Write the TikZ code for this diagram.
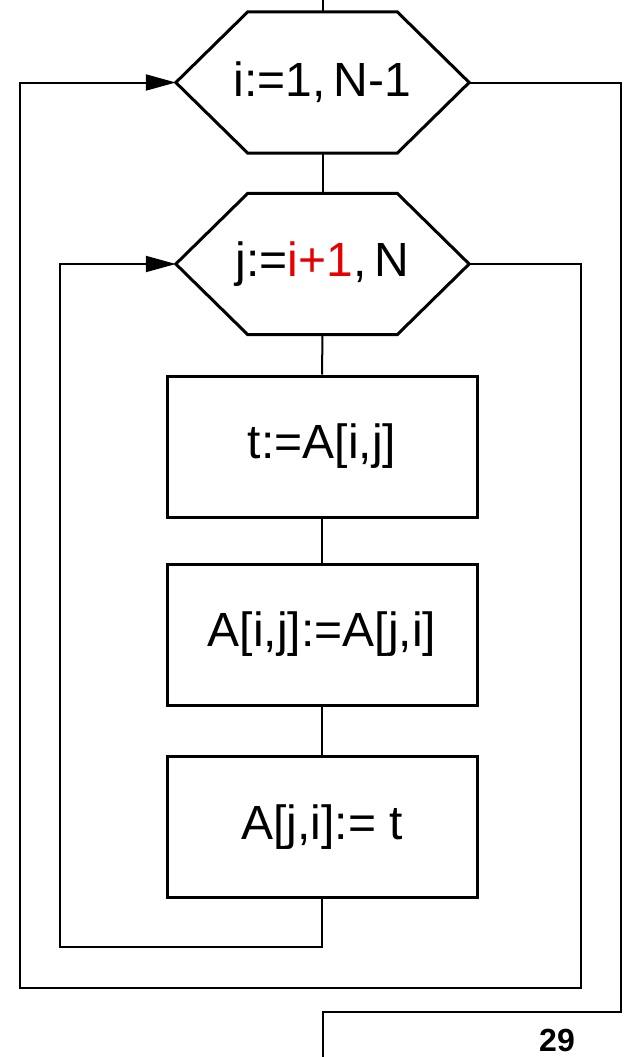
\documentclass[tikz,border=0pt]{standalone}
\usepackage{fontspec}
\setmainfont{Liberation Sans}
\usetikzlibrary{calc,arrows.meta}
\definecolor{txtred}{RGB}{230,0,0}
\begin{document}
\begin{tikzpicture}[x=1pt,y=-1pt,
  conn/.style={line width=2pt,line join=miter},
  arr/.style={conn,-{Triangle[length=30pt,width=16pt]}},
  shapeline/.style={line width=3pt,line join=miter},
  lbl/.style={font=\fontsize{48}{56}\selectfont},
  hexlbl/.style={lbl,minimum width=293pt,minimum height=141pt,inner sep=0pt},
  stepbox/.style={lbl,draw,shapeline,minimum width=310pt,minimum height=141pt,inner sep=0pt}]
\useasboundingbox (0,0) rectangle (625,1057);

% hexagon labels (invisible rectangles used as frames)
\node[hexlbl] (h1) at (322.5,82.5) {i:=1,\,N-1};
\node[hexlbl] (h2) at (322.5,264) {j:=\textcolor{txtred}{i+1},\,N};

\foreach \h in {h1,h2}{
  \draw[shapeline] (\h.west) -- ($(\h.north west)+(72,0)$) -- ($(\h.north east)+(-72,0)$)
     -- (\h.east) -- ($(\h.south east)+(-72,0)$) -- ($(\h.south west)+(72,0)$) -- cycle;
}

\node[stepbox] (b1) at (322,446.5) {t:=A[i,j]};
\node[stepbox] (b2) at (322,634.5) {A[i,j]:=A[j,i]};
\node[stepbox] (b3) at (322,827) {A[j,i]:= t};

\node[font=\bfseries\fontsize{32}{36}\selectfont,inner sep=0pt,anchor=base] (pg) at (557,1051) {29};

% coordinates
\coordinate (top) at (322.5,0);
\coordinate (il) at (60,947);
\coordinate (jr) at (581,988);
\coordinate (ol) at (20,988);
\coordinate (er) at (621,1012);
\coordinate (eb) at (322.5,1057);

% connectors
\draw[conn] (top) -- (h1.north);
\draw[conn] (h1.south) -- (h2.north);
\draw[conn] (h2.south) -- (b1.north);
\draw[conn] (b1.south) -- (b2.north);
\draw[conn] (b2.south) -- (b3.north);
\draw[arr] (b3.south) |- (il) |- (h2.west);
\draw[arr] (h2.east) -| (jr) -- (ol) |- (h1.west);
\draw[conn] (h1.east) -| (er) -| (eb);
\end{tikzpicture}
\end{document}
